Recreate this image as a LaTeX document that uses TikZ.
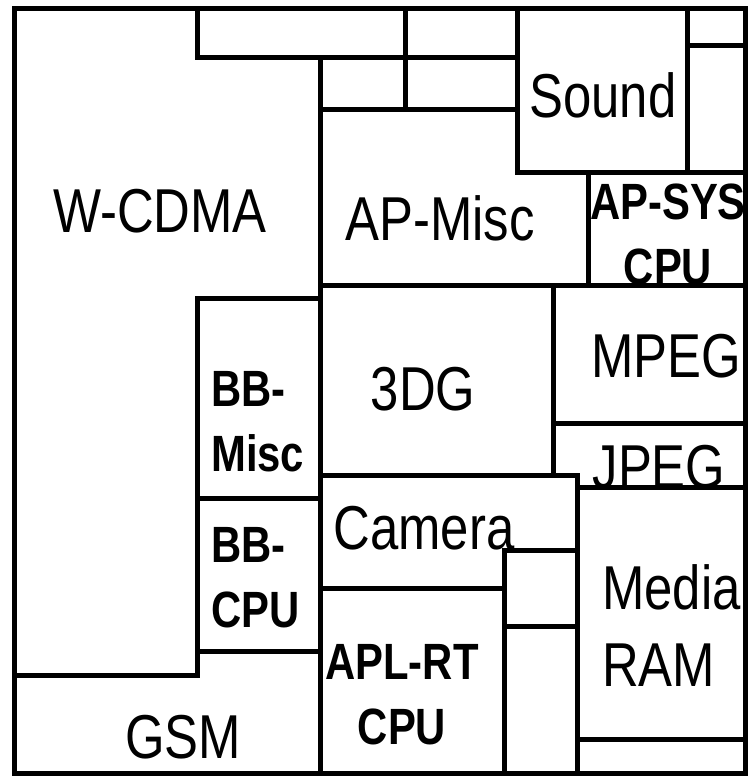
\documentclass[tikz,border=0pt]{standalone}
\usepackage{fontspec}
\setmainfont{Liberation Sans}[FakeStretch=0.82]
\begin{document}
\begin{tikzpicture}[x=1pt, y=-1pt,
    blk/.style={draw=black, line width=5pt, fill=white},
    lbl/.style={font=\fontsize{62}{77}\selectfont, inner sep=0pt},
    lblb/.style={font=\fontsize{51}{65}\selectfont\bfseries, inner sep=0pt}]
	% Khung trang
	\useasboundingbox (0,0) rectangle (747,776);
	
	% Hang o tren cung
	\draw[blk] (197,9) rectangle (405,58);
	\draw[blk] (405,9) rectangle (517,58);
	\draw[blk] (320,58) rectangle (405,109);
	\draw[blk] (405,58) rectangle (517,109);
	
	% W-CDMA va GSM
	\draw[blk] (14,9) -- (197,9) -- (197,58) -- (320,58) -- (320,298) -- (197,298) -- (197,675) -- (14,675) -- cycle;
	\draw[blk] (14,675) -- (197,675) -- (197,651) -- (320,651) -- (320,773) -- (14,773) -- cycle;
	
	% BB-Misc, BB-CPU
	\draw[blk] (197,298) rectangle (320,498);
	\draw[blk] (197,498) rectangle (320,651);
	
	% Sound va hai o ben phai
	\draw[blk] (517,9) rectangle (687,172);
	\draw[blk] (687,9) rectangle (745,46);
	\draw[blk] (687,46) rectangle (745,172);
	
	% AP-Misc
	\draw[blk] (320,109) -- (517,109) -- (517,172) -- (588,172) -- (588,285) -- (320,285) -- cycle;
	
	% AP-SYS CPU (chu bi MPEG che mot phan)
	\draw[blk] (588,172) rectangle (745,285);
	\node[lblb, align=center] (apsys) at (668,234) {AP-SYS\\CPU};
	
	% 3DG, MPEG
	\draw[blk] (320,285) rectangle (553,475);
	\draw[blk] (553,285) rectangle (745,423);
	
	% JPEG (chu bi Media RAM che)
	\draw[blk] (553,423) rectangle (745,487);
	\node[lbl] (jpeg) at (659,467) {JPEG};
	
	% Camera
	\draw[blk] (320,475) rectangle (577,588);
	
	% Media RAM
	\draw[blk] (577,487) rectangle (745,739);
	\draw[blk] (577,739) rectangle (745,773);
	
	% Hai o nho giua Camera va Media RAM
	\draw[blk] (504,550) rectangle (577,626);
	\draw[blk] (504,626) rectangle (577,773);
	
	% APL-RT CPU
	\draw[blk] (320,588) rectangle (504,773);
	
	% Nhan
	\node[lbl] (wcdma) at (160,211) {W-CDMA};
	\node[lbl] (apmisc) at (440,218) {AP-Misc};
	\node[lbl] (sound) at (603,95) {Sound};
	\node[lbl] (tdg) at (423,389) {3DG};
	\node[lbl] (mpeg) at (666,356) {MPEG};
	\node[lbl] (camera) at (424,528) {Camera};
	\node[lbl, align=left, anchor=west] (mediaram) at (602,626) {Media\\RAM};
	\node[lblb, align=left, anchor=west] (bbmisc) at (211,422) {BB-\\Misc};
	\node[lblb, align=left, anchor=west] (bbcpu) at (211,578) {BB-\\CPU};
	\node[lblb, align=center] (aplrt) at (402,695) {APL-RT\\CPU};
	\node[lbl] (gsm) at (183,737) {GSM};
\end{tikzpicture}
\end{document}
